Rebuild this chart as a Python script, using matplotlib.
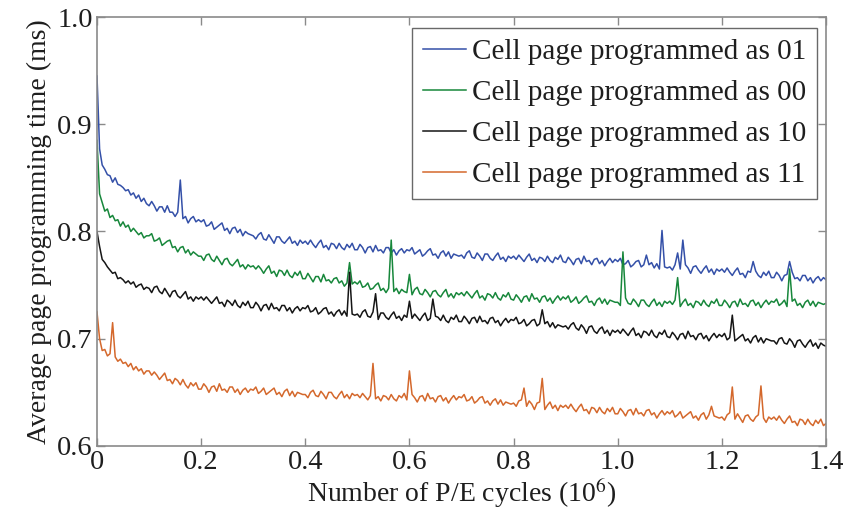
import numpy as np
import matplotlib
matplotlib.use("Agg")
import matplotlib.pyplot as plt

# P/E cycles (x 10^6), sampled every 5,000 cycles
cycles = np.round(np.arange(281) * 0.005, 3)

# Average page programming time (ms) per programmed state
time_01 = [
    0.945, 0.877, 0.862, 0.858, 0.853, 0.852, 0.846, 0.850, 0.844, 0.843, 0.841, 0.838, 0.839, 0.834, 0.836, 0.831, 0.834, 0.828, 0.831, 0.826,
    0.824, 0.828, 0.824, 0.819, 0.823, 0.823, 0.818, 0.824, 0.818, 0.818, 0.814, 0.818, 0.848, 0.812, 0.814, 0.808, 0.812, 0.814, 0.809, 0.811,
    0.809, 0.811, 0.805, 0.806, 0.809, 0.802, 0.804, 0.806, 0.808, 0.801, 0.803, 0.798, 0.803, 0.804, 0.799, 0.802, 0.796, 0.800, 0.798, 0.797,
    0.796, 0.793, 0.797, 0.799, 0.793, 0.792, 0.797, 0.793, 0.789, 0.795, 0.795, 0.791, 0.789, 0.792, 0.795, 0.789, 0.791, 0.787, 0.792, 0.789,
    0.791, 0.788, 0.792, 0.788, 0.785, 0.789, 0.792, 0.785, 0.787, 0.783, 0.789, 0.788, 0.784, 0.789, 0.785, 0.783, 0.788, 0.785, 0.789, 0.783,
    0.783, 0.788, 0.785, 0.780, 0.785, 0.786, 0.781, 0.787, 0.782, 0.783, 0.780, 0.785, 0.785, 0.780, 0.783, 0.778, 0.782, 0.784, 0.780, 0.783,
    0.782, 0.785, 0.779, 0.781, 0.783, 0.777, 0.779, 0.782, 0.784, 0.778, 0.779, 0.775, 0.780, 0.782, 0.777, 0.781, 0.775, 0.779, 0.778, 0.777,
    0.778, 0.775, 0.780, 0.782, 0.776, 0.775, 0.780, 0.777, 0.773, 0.779, 0.779, 0.775, 0.773, 0.777, 0.780, 0.774, 0.776, 0.772, 0.777, 0.775,
    0.777, 0.774, 0.778, 0.775, 0.772, 0.776, 0.779, 0.773, 0.775, 0.771, 0.776, 0.775, 0.772, 0.777, 0.773, 0.771, 0.776, 0.774, 0.778, 0.772,
    0.771, 0.776, 0.773, 0.769, 0.774, 0.775, 0.770, 0.777, 0.772, 0.773, 0.769, 0.774, 0.775, 0.770, 0.773, 0.768, 0.772, 0.775, 0.771, 0.774,
    0.772, 0.775, 0.769, 0.770, 0.773, 0.767, 0.769, 0.772, 0.773, 0.767, 0.769, 0.778, 0.769, 0.771, 0.766, 0.770, 0.765, 0.801, 0.767, 0.766,
    0.767, 0.764, 0.769, 0.780, 0.765, 0.792, 0.769, 0.766, 0.761, 0.767, 0.768, 0.764, 0.761, 0.765, 0.768, 0.762, 0.765, 0.760, 0.765, 0.763,
    0.765, 0.762, 0.766, 0.762, 0.759, 0.763, 0.766, 0.760, 0.761, 0.757, 0.763, 0.762, 0.772, 0.763, 0.759, 0.757, 0.762, 0.759, 0.763, 0.757,
    0.757, 0.762, 0.759, 0.754, 0.759, 0.760, 0.772, 0.762, 0.756, 0.757, 0.754, 0.759, 0.759, 0.754, 0.757, 0.752, 0.756, 0.758, 0.754, 0.757,
    0.755,
]

time_00 = [
    0.885, 0.835, 0.827, 0.819, 0.821, 0.813, 0.815, 0.810, 0.811, 0.805, 0.809, 0.804, 0.806, 0.800, 0.803, 0.800, 0.797, 0.799, 0.794, 0.796,
    0.796, 0.798, 0.791, 0.792, 0.794, 0.787, 0.789, 0.791, 0.792, 0.785, 0.786, 0.781, 0.785, 0.786, 0.780, 0.783, 0.778, 0.781, 0.779, 0.777,
    0.777, 0.773, 0.778, 0.779, 0.774, 0.772, 0.777, 0.773, 0.769, 0.774, 0.775, 0.770, 0.768, 0.771, 0.774, 0.767, 0.769, 0.765, 0.769, 0.767,
    0.768, 0.765, 0.768, 0.765, 0.761, 0.765, 0.768, 0.761, 0.763, 0.758, 0.764, 0.763, 0.759, 0.764, 0.759, 0.757, 0.762, 0.759, 0.763, 0.756,
    0.756, 0.761, 0.757, 0.753, 0.758, 0.758, 0.753, 0.760, 0.754, 0.755, 0.752, 0.756, 0.757, 0.752, 0.754, 0.749, 0.752, 0.771, 0.751, 0.753,
    0.751, 0.754, 0.748, 0.749, 0.752, 0.746, 0.747, 0.750, 0.752, 0.745, 0.747, 0.743, 0.747, 0.792, 0.744, 0.747, 0.742, 0.746, 0.744, 0.743,
    0.760, 0.741, 0.746, 0.748, 0.742, 0.741, 0.746, 0.743, 0.739, 0.744, 0.745, 0.741, 0.739, 0.743, 0.746, 0.739, 0.742, 0.738, 0.743, 0.741,
    0.743, 0.740, 0.744, 0.741, 0.738, 0.742, 0.745, 0.738, 0.740, 0.736, 0.742, 0.741, 0.738, 0.743, 0.738, 0.736, 0.741, 0.739, 0.743, 0.737,
    0.736, 0.741, 0.738, 0.734, 0.739, 0.740, 0.735, 0.742, 0.737, 0.738, 0.734, 0.739, 0.740, 0.735, 0.738, 0.733, 0.737, 0.740, 0.736, 0.739,
    0.737, 0.740, 0.734, 0.736, 0.739, 0.733, 0.735, 0.738, 0.740, 0.734, 0.735, 0.731, 0.736, 0.738, 0.733, 0.737, 0.732, 0.736, 0.735, 0.734,
    0.734, 0.731, 0.781, 0.738, 0.733, 0.732, 0.737, 0.734, 0.730, 0.736, 0.736, 0.732, 0.730, 0.734, 0.737, 0.731, 0.734, 0.730, 0.735, 0.733,
    0.735, 0.732, 0.736, 0.757, 0.730, 0.734, 0.737, 0.731, 0.733, 0.729, 0.735, 0.734, 0.731, 0.736, 0.732, 0.730, 0.735, 0.733, 0.737, 0.731,
    0.731, 0.736, 0.733, 0.729, 0.734, 0.735, 0.730, 0.737, 0.732, 0.733, 0.730, 0.735, 0.736, 0.731, 0.734, 0.729, 0.733, 0.736, 0.732, 0.735,
    0.734, 0.737, 0.731, 0.733, 0.736, 0.730, 0.765, 0.735, 0.737, 0.731, 0.733, 0.729, 0.734, 0.736, 0.731, 0.735, 0.730, 0.734, 0.733, 0.732,
    0.733,
]

time_10 = [
    0.800, 0.786, 0.774, 0.771, 0.767, 0.764, 0.761, 0.762, 0.756, 0.757, 0.755, 0.752, 0.754, 0.751, 0.753, 0.748, 0.750, 0.751, 0.746, 0.748,
    0.747, 0.743, 0.748, 0.749, 0.744, 0.742, 0.747, 0.743, 0.739, 0.744, 0.745, 0.740, 0.738, 0.741, 0.744, 0.737, 0.739, 0.735, 0.739, 0.737,
    0.739, 0.736, 0.739, 0.736, 0.733, 0.736, 0.739, 0.733, 0.734, 0.730, 0.736, 0.734, 0.731, 0.736, 0.731, 0.729, 0.734, 0.731, 0.735, 0.729,
    0.729, 0.734, 0.731, 0.726, 0.731, 0.732, 0.727, 0.733, 0.728, 0.729, 0.726, 0.731, 0.731, 0.726, 0.729, 0.724, 0.728, 0.730, 0.726, 0.729,
    0.728, 0.731, 0.725, 0.726, 0.729, 0.723, 0.725, 0.728, 0.729, 0.723, 0.725, 0.721, 0.725, 0.727, 0.722, 0.726, 0.721, 0.762, 0.723, 0.722,
    0.723, 0.720, 0.725, 0.727, 0.721, 0.720, 0.725, 0.742, 0.718, 0.724, 0.724, 0.720, 0.718, 0.722, 0.725, 0.719, 0.721, 0.717, 0.722, 0.720,
    0.735, 0.719, 0.723, 0.720, 0.717, 0.721, 0.724, 0.717, 0.719, 0.737, 0.721, 0.720, 0.717, 0.722, 0.717, 0.715, 0.720, 0.718, 0.722, 0.716,
    0.716, 0.721, 0.718, 0.714, 0.719, 0.720, 0.715, 0.721, 0.716, 0.717, 0.714, 0.719, 0.720, 0.715, 0.717, 0.712, 0.716, 0.719, 0.715, 0.718,
    0.717, 0.720, 0.714, 0.715, 0.718, 0.712, 0.714, 0.717, 0.718, 0.712, 0.714, 0.727, 0.714, 0.716, 0.711, 0.715, 0.710, 0.713, 0.712, 0.711,
    0.712, 0.709, 0.713, 0.715, 0.710, 0.708, 0.713, 0.710, 0.705, 0.711, 0.712, 0.707, 0.705, 0.709, 0.711, 0.705, 0.708, 0.703, 0.708, 0.706,
    0.708, 0.705, 0.709, 0.706, 0.703, 0.707, 0.710, 0.703, 0.705, 0.701, 0.707, 0.706, 0.703, 0.708, 0.703, 0.701, 0.706, 0.704, 0.708, 0.702,
    0.701, 0.706, 0.703, 0.699, 0.704, 0.705, 0.700, 0.707, 0.702, 0.703, 0.699, 0.704, 0.705, 0.700, 0.703, 0.698, 0.702, 0.705, 0.701, 0.704,
    0.702, 0.705, 0.699, 0.701, 0.722, 0.698, 0.700, 0.702, 0.704, 0.698, 0.700, 0.696, 0.701, 0.703, 0.697, 0.701, 0.696, 0.700, 0.699, 0.698,
    0.698, 0.695, 0.700, 0.701, 0.696, 0.695, 0.700, 0.697, 0.692, 0.698, 0.699, 0.695, 0.692, 0.696, 0.699, 0.693, 0.696, 0.691, 0.696, 0.694,
    0.693,
]

time_11 = [
    0.725, 0.700, 0.689, 0.690, 0.684, 0.686, 0.715, 0.683, 0.679, 0.681, 0.677, 0.678, 0.674, 0.677, 0.671, 0.674, 0.670, 0.672, 0.667, 0.670,
    0.670, 0.666, 0.669, 0.666, 0.662, 0.665, 0.668, 0.661, 0.662, 0.658, 0.663, 0.661, 0.657, 0.662, 0.657, 0.654, 0.659, 0.656, 0.659, 0.653,
    0.653, 0.658, 0.655, 0.650, 0.655, 0.656, 0.651, 0.658, 0.652, 0.653, 0.650, 0.655, 0.655, 0.650, 0.653, 0.648, 0.652, 0.654, 0.650, 0.653,
    0.652, 0.655, 0.649, 0.651, 0.654, 0.648, 0.650, 0.652, 0.654, 0.648, 0.650, 0.646, 0.651, 0.653, 0.647, 0.651, 0.646, 0.650, 0.649, 0.648,
    0.648, 0.645, 0.650, 0.652, 0.647, 0.646, 0.651, 0.648, 0.644, 0.650, 0.650, 0.646, 0.644, 0.648, 0.651, 0.645, 0.648, 0.644, 0.649, 0.647,
    0.648, 0.645, 0.649, 0.646, 0.643, 0.647, 0.677, 0.644, 0.646, 0.642, 0.647, 0.646, 0.643, 0.648, 0.644, 0.642, 0.647, 0.645, 0.649, 0.643,
    0.670, 0.648, 0.645, 0.641, 0.646, 0.647, 0.642, 0.649, 0.644, 0.645, 0.641, 0.646, 0.647, 0.642, 0.645, 0.640, 0.644, 0.647, 0.643, 0.646,
    0.645, 0.648, 0.642, 0.643, 0.646, 0.640, 0.642, 0.645, 0.646, 0.640, 0.642, 0.638, 0.642, 0.644, 0.639, 0.643, 0.638, 0.641, 0.640, 0.639,
    0.640, 0.637, 0.642, 0.643, 0.654, 0.637, 0.642, 0.639, 0.634, 0.640, 0.641, 0.663, 0.634, 0.638, 0.641, 0.635, 0.638, 0.633, 0.638, 0.636,
    0.638, 0.635, 0.639, 0.635, 0.632, 0.636, 0.639, 0.633, 0.634, 0.630, 0.636, 0.635, 0.631, 0.636, 0.632, 0.630, 0.635, 0.632, 0.636, 0.630,
    0.630, 0.635, 0.632, 0.628, 0.633, 0.634, 0.629, 0.635, 0.630, 0.631, 0.628, 0.633, 0.634, 0.629, 0.631, 0.626, 0.630, 0.633, 0.629, 0.632,
    0.630, 0.633, 0.627, 0.629, 0.632, 0.626, 0.628, 0.630, 0.632, 0.626, 0.628, 0.624, 0.629, 0.631, 0.625, 0.629, 0.637, 0.628, 0.627, 0.626,
    0.627, 0.624, 0.629, 0.631, 0.655, 0.625, 0.630, 0.626, 0.622, 0.628, 0.629, 0.625, 0.623, 0.627, 0.629, 0.656, 0.626, 0.622, 0.627, 0.625,
    0.627, 0.624, 0.628, 0.624, 0.621, 0.625, 0.628, 0.622, 0.623, 0.619, 0.625, 0.624, 0.620, 0.625, 0.621, 0.619, 0.624, 0.621, 0.625, 0.619,
    0.621,
]

series = [
    ("Cell page programmed as 01", time_01, "#3450a8"),
    ("Cell page programmed as 00", time_00, "#17873b"),
    ("Cell page programmed as 10", time_10, "#151515"),
    ("Cell page programmed as 11", time_11, "#d4682c"),
]

x_ticks = [0, 0.2, 0.4, 0.6, 0.8, 1.0, 1.2, 1.4]
x_tick_labels = ["0", "0.2", "0.4", "0.6", "0.8", "1.0", "1.2", "1.4"]
y_ticks = [0.6, 0.7, 0.8, 0.9, 1.0]
y_tick_labels = ["0.6", "0.7", "0.8", "0.9", "1.0"]

plt.rcParams["font.family"] = ["Liberation Serif", "DejaVu Serif"]
plt.rcParams["mathtext.fontset"] = "stix"

fig = plt.figure(figsize=(8.56, 5.19), dpi=100)
ax = fig.add_axes([0.1133, 0.1407, 0.8517, 0.8265])

for label, values, color in series:
    ax.plot(cycles, values, color=color, lw=1.1, label=label)

ax.set_xlim(0, 1.4)
ax.set_ylim(0.6, 1.0)
ax.set_xticks(x_ticks)
ax.set_xticklabels(x_tick_labels)
ax.set_yticks(y_ticks)
ax.set_yticklabels(y_tick_labels)

spine_color = "#8a8a8a"
for s in ax.spines.values():
    s.set_color(spine_color)
    s.set_linewidth(1.2)
ax.tick_params(direction="in", length=6, width=1.0, color=spine_color,
               top=True, right=True, labelsize=20.5, pad=3, labelcolor="#1e1e1e")

ax.set_xlabel("Number of P/E cycles (10$^{6}$)", fontsize=20, color="#1e1e1e", labelpad=1)
ax.set_ylabel("Average page programming time (ms)", fontsize=20, color="#1e1e1e", labelpad=4)

leg = ax.legend(loc="upper right", bbox_to_anchor=(0.988, 0.974), fontsize=21,
                frameon=True, fancybox=False, handlelength=1.5, handletextpad=0.2,
                borderpad=0.37, labelspacing=0.5, borderaxespad=0.0)
leg.get_frame().set_edgecolor("#444444")
leg.get_frame().set_linewidth(1.0)
for t in leg.get_texts():
    t.set_color("#1e1e1e")

fig.savefig("out.png", dpi=100)
